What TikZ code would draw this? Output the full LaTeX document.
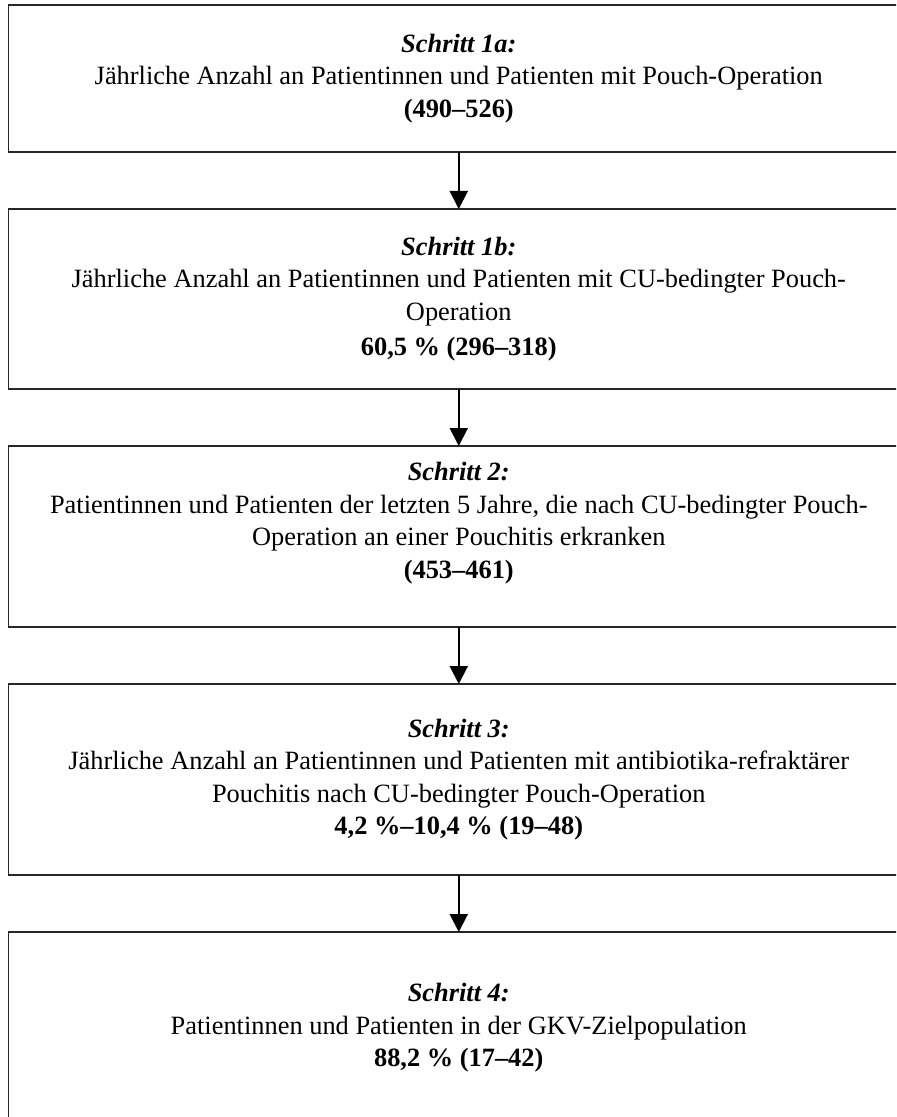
\documentclass[tikz,border=0pt]{standalone}
\usepackage{fontspec}
\setmainfont{Liberation Serif}
\usetikzlibrary{arrows.meta}
\tikzset{
  stepbox/.style={draw=black!85, line width=0.6pt, rectangle, inner sep=0pt, outer sep=0pt,
    minimum width=450.25pt, align=center, font=\fontsize{13.2pt}{16.25pt}\selectfont},
  flowarrow/.style={line width=1pt, -{Triangle[length=9pt,width=9pt]}}
}
\begin{document}
\begin{tikzpicture}[x=0.5pt,y=-0.5pt]
\useasboundingbox (0,0) rectangle (896,1117);
\clip (0,0) rectangle (896,1117);
\fill[white] (0,0) rectangle (896,1117);
\node[stepbox, minimum height=73.5pt] (b1) at (458.75,78.5)
  {\textbf{\textit{Schritt 1a:}}\\
   Jährliche Anzahl an Patientinnen und Patienten mit Pouch-Operation\\
   \textbf{(490–526)}};
\node[stepbox, minimum height=90pt] (b2) at (458.75,299)
  {\textbf{\textit{Schritt 1b:}}\\
   Jährliche Anzahl an Patientinnen und Patienten mit CU-bedingter Pouch-\\
   Operation\\[1.5pt]
   \textbf{60,5 \% (296–318)}};
\node[stepbox, minimum height=90.5pt] (b3) at (458.75,536.5)
  {\textbf{\textit{Schritt 2:}}\\
   Patientinnen und Patienten der letzten 5 Jahre, die nach CU-bedingter Pouch-\\
   Operation an einer Pouchitis erkranken\\
   \textbf{(453–461)}\\
   \mbox{}};
\node[stepbox, minimum height=95.5pt] (b4) at (458.75,779.5)
  {\textbf{\textit{Schritt 3:}}\\
   Jährliche Anzahl an Patientinnen und Patienten mit antibiotika-refraktärer\\
   Pouchitis nach CU-bedingter Pouch-Operation\\
   \textbf{4,2 \%–10,4 \% (19–48)}};
\node[stepbox, minimum height=96pt] (b5) at (458.75,1028)
  {\textbf{\textit{Schritt 4:}}\\
   Patientinnen und Patienten in der GKV-Zielpopulation\\
   \textbf{88,2 \% (17–42)}};
\draw[flowarrow] (b1.south) -- (b2.north);
\draw[flowarrow] (b2.south) -- (b3.north);
\draw[flowarrow] (b3.south) -- (b4.north);
\draw[flowarrow] (b4.south) -- (b5.north);
\end{tikzpicture}
\end{document}
